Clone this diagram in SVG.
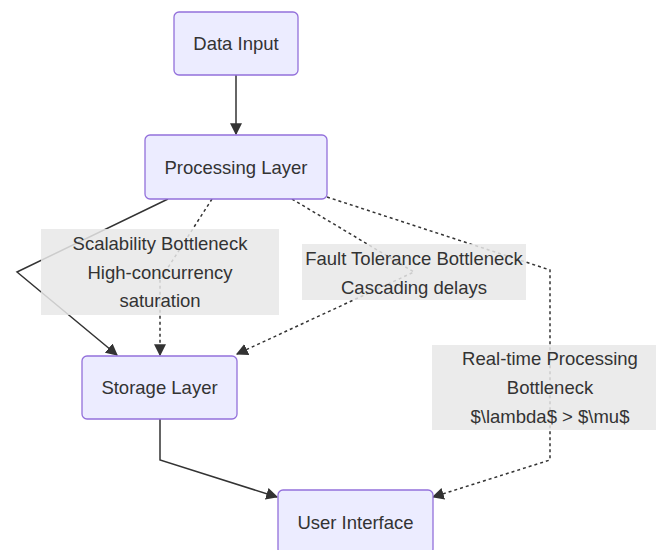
<svg xmlns="http://www.w3.org/2000/svg" width="656" height="550" viewBox="0 0 656 550">
<defs>
<style>
.node rect{fill:#ECECFF;stroke:#9370DB;stroke-width:1.3}
.node text,.lbl text{font-family:"Liberation Sans",Arial,sans-serif;font-size:18.5px;fill:#333;text-anchor:middle;dominant-baseline:central}
.lbl rect{fill:#e8e8e8;fill-opacity:0.85}
.e{fill:none;stroke:#333;stroke-width:1.5}
.d{stroke-dasharray:3 3}
</style>
<marker id="ah" viewBox="0 0 10 10" refX="9" refY="5" markerWidth="12" markerHeight="12" markerUnits="userSpaceOnUse" orient="auto">
<path d="M0,0 L10,5 L0,10 z" fill="#333"/>
</marker>
</defs>
<rect width="656" height="550" fill="#fff"/>
<g id="edges">
<path class="e" d="M236,75 L236,134" marker-end="url(#ah)"/>
<path class="e" d="M168,199 L17,272 L117,355" marker-end="url(#ah)"/>
<path class="e d" d="M212,199 L160,280 L160,355" marker-end="url(#ah)"/>
<path class="e d" d="M292,199 L414,272 L237,354" marker-end="url(#ah)"/>
<path class="e d" d="M327,197 L550,270 L550,460 L433,497" marker-end="url(#ah)"/>
<path class="e" d="M160,419 L160,460 L277,497" marker-end="url(#ah)"/>
</g>
<g id="label-scalability" class="lbl">
<rect x="41" y="229" width="238" height="86"/>
<text x="160" y="243.5">Scalability Bottleneck</text>
<text x="160" y="272">High-concurrency</text>
<text x="160" y="300.5">saturation</text>
</g>
<g id="label-fault" class="lbl">
<rect x="302" y="244" width="224" height="56"/>
<text x="414" y="258">Fault Tolerance Bottleneck</text>
<text x="414" y="287">Cascading delays</text>
</g>
<g id="label-realtime" class="lbl">
<rect x="432" y="345" width="236" height="85"/>
<text x="550" y="358.5">Real-time Processing</text>
<text x="550" y="387.5">Bottleneck</text>
<text x="550" y="416.5">$\lambda$ &gt; $\mu$</text>
</g>
<g id="data-input" class="node">
<rect x="174" y="12" width="124" height="63" rx="5"/>
<text x="236" y="43.5">Data Input</text>
</g>
<g id="processing-layer" class="node">
<rect x="145" y="135" width="182" height="64" rx="5"/>
<text x="236" y="167">Processing Layer</text>
</g>
<g id="storage-layer" class="node">
<rect x="82" y="356" width="155" height="63" rx="5"/>
<text x="159.5" y="387.5">Storage Layer</text>
</g>
<g id="user-interface" class="node">
<rect x="278" y="490" width="155" height="64" rx="5"/>
<text x="355.5" y="522">User Interface</text>
</g>
</svg>
